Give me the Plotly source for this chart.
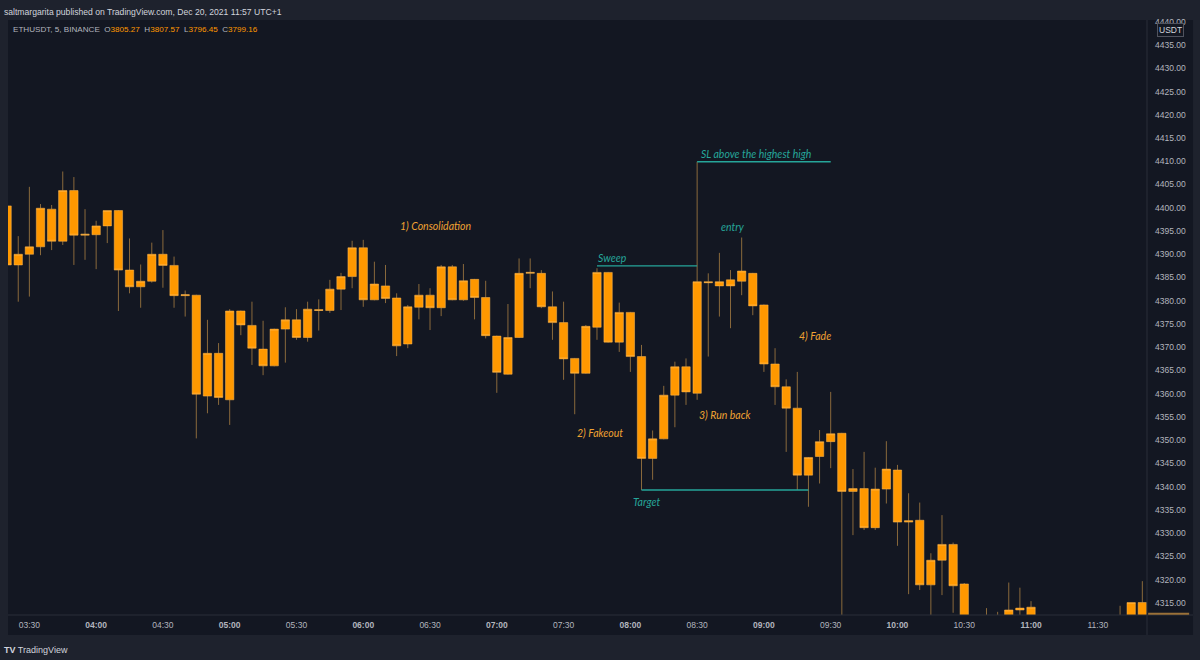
import pandas as pd
import plotly.graph_objects as go

# ---------------- data ----------------
times = pd.date_range("2021-12-20 03:20", periods=103, freq="5min")

opens = [4400.4, 4387.7, 4390.0, 4391.6, 4399.7, 4392.8, 4403.7, 4394.1, 4394.2, 4396.1,
         4399.4, 4386.6, 4383.0, 4384.2, 4390.0, 4387.6, 4381.1, 4381.2, 4359.5, 4368.7,
         4358.7, 4377.8, 4374.7, 4369.6, 4366.0, 4373.9, 4375.9, 4372.1, 4378.1, 4377.9,
         4382.5, 4385.2, 4391.4, 4380.2, 4383.2, 4380.6, 4370.7, 4378.6, 4381.2, 4378.5,
         4387.3, 4380.2, 4384.6, 4380.7, 4372.4, 4364.2, 4372.1, 4385.9, 4385.9, 4378.7,
         4375.3, 4367.6, 4364.4, 4374.3, 4386.1, 4371.1, 4377.5, 4368.0, 4346.1, 4350.3,
         4359.7, 4365.8, 4360.1, 4384.1, 4383.2, 4384.5, 4384.2, 4385.9, 4379.1, 4366.4,
         4361.5, 4356.9, 4342.5, 4346.5, 4349.7, 4351.5, 4339.0, 4339.6, 4331.2, 4339.5,
         4343.6, 4332.4, 4332.8, 4318.9, 4324.2, 4327.6, 4319.1, 4306.0, 4304.0, 4308.0,
         4305.0, 4313.5, 4310.0, 4311.0, 4304.0, 4301.0, 4303.0, 4300.0, 4302.0, 4306.0,
         4305.0, 4308.0, 4315.1]
highs = [4400.5, 4393.9, 4404.5, 4400.8, 4400.6, 4407.8, 4406.6, 4399.7, 4397.2, 4399.4,
         4399.5, 4393.4, 4387.8, 4392.5, 4395.2, 4389.5, 4382.2, 4381.3, 4375.9, 4370.9,
         4378.2, 4377.9, 4379.8, 4375.7, 4374.0, 4378.6, 4378.2, 4379.8, 4380.3, 4384.5,
         4386.0, 4392.9, 4393.1, 4388.4, 4387.7, 4381.6, 4379.1, 4383.6, 4382.7, 4387.7,
         4387.7, 4387.9, 4384.7, 4384.3, 4372.5, 4379.3, 4389.1, 4389.1, 4386.6, 4382.0,
         4379.8, 4367.7, 4374.8, 4387.0, 4386.2, 4379.6, 4377.6, 4370.5, 4352.1, 4361.7,
         4366.9, 4367.6, 4409.9, 4385.9, 4390.3, 4386.6, 4393.6, 4386.0, 4379.2, 4369.8,
         4363.1, 4364.7, 4346.4, 4352.2, 4360.4, 4351.6, 4343.8, 4347.5, 4344.1, 4349.8,
         4344.7, 4338.6, 4336.6, 4325.7, 4333.9, 4328.0, 4319.3, 4309.0, 4313.9, 4313.1,
         4319.4, 4318.3, 4315.4, 4311.8, 4309.0, 4306.0, 4308.0, 4305.0, 4310.0, 4311.0,
         4314.4, 4315.1, 4319.7]
lows = [4369.6, 4379.8, 4380.9, 4389.8, 4390.9, 4392.0, 4387.7, 4388.8, 4386.8, 4392.4,
        4377.8, 4381.6, 4378.5, 4383.9, 4382.8, 4378.5, 4376.6, 4350.4, 4355.8, 4357.6,
        4353.3, 4372.6, 4366.2, 4364.0, 4365.9, 4366.7, 4371.6, 4371.2, 4373.6, 4377.4,
        4378.0, 4382.7, 4378.7, 4380.1, 4379.5, 4368.1, 4369.8, 4376.0, 4373.7, 4376.7,
        4380.1, 4380.0, 4376.0, 4371.9, 4360.2, 4364.1, 4372.0, 4382.7, 4378.4, 4371.6,
        4363.0, 4355.6, 4364.3, 4371.6, 4371.0, 4369.0, 4364.7, 4339.3, 4341.5, 4350.2,
        4352.8, 4357.6, 4358.7, 4368.0, 4376.6, 4374.1, 4381.2, 4376.9, 4364.7, 4357.6,
        4347.5, 4339.3, 4335.7, 4340.7, 4344.0, 4305.0, 4329.6, 4330.7, 4330.7, 4336.4,
        4327.3, 4316.9, 4317.8, 4310.0, 4316.7, 4312.9, 4303.0, 4300.0, 4301.0, 4303.0,
        4302.0, 4308.0, 4306.0, 4302.0, 4298.0, 4296.0, 4299.0, 4295.0, 4300.0, 4303.0,
        4303.0, 4307.0, 4306.0]
closes = [4387.7, 4390.0, 4391.6, 4399.9, 4392.8, 4403.7, 4394.1, 4394.3, 4396.1, 4399.4,
          4386.6, 4383.0, 4384.2, 4390.0, 4387.6, 4381.1, 4381.3, 4359.9, 4368.7, 4359.2,
          4377.8, 4374.8, 4369.8, 4366.0, 4373.9, 4375.9, 4372.1, 4378.2, 4377.9, 4382.5,
          4385.2, 4391.4, 4380.2, 4383.6, 4380.5, 4370.3, 4378.7, 4381.2, 4378.5, 4387.3,
          4380.2, 4384.3, 4380.7, 4372.5, 4364.6, 4372.1, 4385.9, 4386.1, 4378.7, 4375.3,
          4367.5, 4364.4, 4374.5, 4386.1, 4371.1, 4377.5, 4368.0, 4346.1, 4350.3, 4359.7,
          4365.8, 4360.4, 4384.1, 4383.9, 4384.1, 4383.2, 4386.4, 4378.9, 4366.4, 4361.5,
          4356.9, 4342.5, 4346.3, 4349.7, 4351.4, 4339.0, 4339.6, 4331.2, 4339.5, 4343.8,
          4332.4, 4332.7, 4318.9, 4324.2, 4327.6, 4318.7, 4306.0, 4304.0, 4308.0, 4305.0,
          4313.5, 4313.9, 4314.1, 4304.0, 4301.0, 4303.0, 4300.0, 4302.0, 4306.0, 4304.0,
          4309.0, 4315.1, 4310.0]

tick_times = ["03:30", "04:00", "04:30", "05:00", "05:30", "06:00", "06:30", "07:00", "07:30",
              "08:00", "08:30", "09:00", "09:30", "10:00", "10:30", "11:00", "11:30"]

# annotation texts (orange = phases, teal = trade levels)
phase_labels = ["1) Consolidation", "2) Fakeout", "3) Run back", "4) Fade"]
phase_times = ["06:32:15", "07:46:30", "08:42:24", "09:23:10"]
phase_prices = [4396.1, 4351.5, 4355.4, 4372.5]

level_labels = ["Sweep", "SL above the highest high", "entry", "Target"]
level_times = ["07:51:58", "08:56:30", "08:46:15", "08:07:10"]
level_prices = [4389.1, 4411.6, 4395.8, 4336.8]

level_lines_start = ["07:45", "08:30", "08:05"]
level_lines_end = ["08:30", "09:30", "09:20"]
level_lines_price = [4387.5, 4409.9, 4339.3]

DAY = "2021-12-20 "

# ---------------- style ----------------
ORANGE = "#ff9800"
WICK = "rgba(255,187,86,0.5)"
PRICELINE = "#9a7139"
TEAL = "#26a69a"
TXT_OR = "#f0a232"
PANEL = "#131722"
OUTER = "#1e222d"
BORDER = "#2a2e39"
AXTXT = "#b2b5be"

fig = go.Figure()
fig.add_trace(go.Candlestick(
    x=times, open=opens, high=highs, low=lows, close=closes,
    increasing=dict(line=dict(color=WICK, width=1), fillcolor=ORANGE),
    decreasing=dict(line=dict(color=WICK, width=1), fillcolor=ORANGE),
    whiskerwidth=0, hoverinfo="skip", showlegend=False,
))

shapes = []
# dark chart panel including axis bands
shapes.append(dict(type="rect", xref="paper", yref="paper", x0=0, x1=1.0404, y0=-0.0336, y1=1,
                   fillcolor=PANEL, line=dict(width=0), layer="below"))
# axis borders
shapes.append(dict(type="line", xref="paper", yref="paper", x0=1, x1=1, y0=-0.0336, y1=1,
                   line=dict(color=BORDER, width=1)))
shapes.append(dict(type="line", xref="paper", yref="paper", x0=0, x1=1.0404, y0=0, y1=0,
                   line=dict(color=BORDER, width=1)))
# last price line on price scale
shapes.append(dict(type="line", xref="paper", yref="y", x0=1.001, x1=1.037, y0=4312.7, y1=4312.7,
                   line=dict(color=PRICELINE, width=2)))
for s, e, p in zip(level_lines_start, level_lines_end, level_lines_price):
    shapes.append(dict(type="line", xref="x", yref="y", x0=DAY + s, x1=DAY + e, y0=p, y1=p,
                       line=dict(color=TEAL, width=1.3)))

annotations = []
for t, tx, p in zip(phase_labels, phase_times, phase_prices):
    annotations.append(dict(x=DAY + tx, y=p, text=t, showarrow=False, xanchor="center", yanchor="middle",
                            font=dict(family="Lato", size=10.5, color=TXT_OR, style="italic")))
for t, tx, p in zip(level_labels, level_times, level_prices):
    annotations.append(dict(x=DAY + tx, y=p, text=t, showarrow=False, xanchor="center", yanchor="middle",
                            font=dict(family="Lato", size=10.5, color=TEAL, style="italic")))

# header and legend texts
annotations.append(dict(xref="paper", yref="paper", x=-0.0055, y=1.0, yshift=8, xanchor="left", yanchor="middle",
                        text="saltmargarita published on TradingView.com, Dec 20, 2021 11:57 UTC+1",
                        showarrow=False, font=dict(family="Liberation Sans", size=8.6, color="#d1d4dc")))
annotations.append(dict(xref="paper", yref="paper", x=0.003, y=1.0, yshift=-9, xanchor="left", yanchor="middle",
                        text=("ETHUSDT, 5, BINANCE  O<span style='color:%s'>3805.27</span>  "
                              "H<span style='color:%s'>3807.57</span>  L<span style='color:%s'>3796.45</span>  "
                              "C<span style='color:%s'>3799.16</span>") % (ORANGE, ORANGE, ORANGE, ORANGE),
                        showarrow=False, font=dict(family="Liberation Sans", size=8.1, color=AXTXT)))
annotations.append(dict(xref="paper", yref="paper", x=1.0202, y=1.0, yshift=-10, xanchor="center", yanchor="middle",
                        text="USDT", showarrow=False, bgcolor=PANEL, bordercolor="#50535e", borderwidth=1,
                        borderpad=1, font=dict(family="Liberation Sans", size=8.5, color="#d1d4dc")))
annotations.append(dict(xref="paper", yref="paper", x=-0.0055, y=-0.0336, yshift=-15, xanchor="left", yanchor="middle",
                        text="<b>TV</b> TradingView", showarrow=False,
                        font=dict(family="Liberation Sans", size=9, color="#d1d4dc")))

hour_bold = [("<b>%s</b>" % t) if t.endswith(":00") else t for t in tick_times]

fig.update_layout(
    width=1200, height=660,
    margin=dict(l=8, r=53, t=20, b=45),
    paper_bgcolor=OUTER, plot_bgcolor=PANEL,
    boxgap=0.25, boxgroupgap=0,
    shapes=shapes, annotations=annotations,
    xaxis=dict(type="date", range=[DAY + "03:20:24", DAY + "11:52:06"],
               rangeslider=dict(visible=False), showgrid=False, zeroline=False,
               tickmode="array", tickvals=[DAY + t for t in tick_times], ticktext=hour_bold,
               ticks="", ticklabelstandoff=3,
               tickfont=dict(family="Liberation Sans", size=8.5, color=AXTXT)),
    yaxis=dict(side="right", range=[4312.42, 4440.38], showgrid=False, zeroline=False,
               tickmode="linear", tick0=4315, dtick=5, tickformat=".2f",
               ticks="", ticklabelstandoff=7,
               tickfont=dict(family="Liberation Sans", size=8.5, color=AXTXT)),
)

fig.write_html("out.html")
